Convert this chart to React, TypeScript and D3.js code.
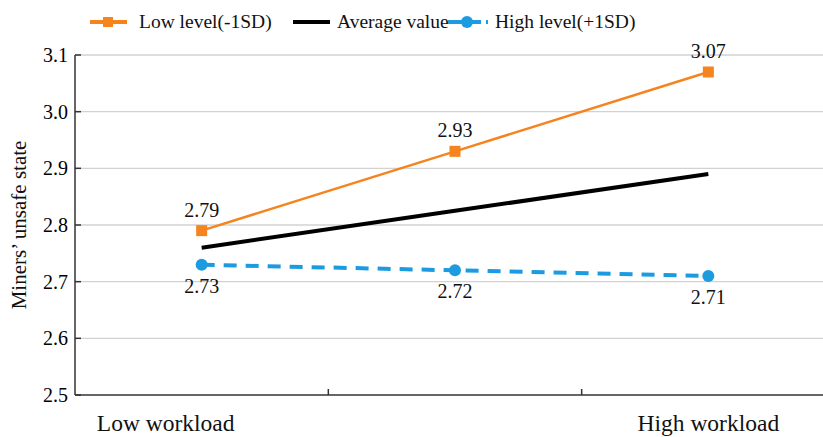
import React from 'react';
import * as d3 from 'd3';

const categories = ['Low workload', 'Medium workload', 'High workload'];
const categoryLabels = ['Low workload', '', 'High workload'];
const lowLevel = [2.79, 2.93, 3.07];
const averageValue = [2.76, 2.825, 2.89];
const highLevel = [2.73, 2.72, 2.71];
const yTicks = [2.5, 2.6, 2.7, 2.8, 2.9, 3.0, 3.1];

const width = 823;
const height = 437;
const margin = { top: 55, right: -12, bottom: 42, left: 75 };
const font = "'Liberation Serif', 'Times New Roman', Times, serif";

const orange = '#f5841f';
const blue = '#1c9be0';

const App = () => {
  const x = d3
    .scaleBand<string>()
    .domain(categories)
    .range([margin.left, width - margin.right]);

  const y = d3
    .scaleLinear()
    .domain([2.5, 3.1])
    .range([height - margin.bottom, margin.top]);

  const cx = (i: number) => (x(categories[i]) as number) + x.bandwidth() / 2;

  const line = d3
    .line<number>()
    .x((_, i) => cx(i))
    .y((d) => y(d));

  const bottom = y(2.5);

  return (
    <svg
      width={width}
      height={height}
      style={{ position: 'absolute', left: 0, top: 0, background: '#fff', fontFamily: font }}
    >
      {/* grid */}
      {yTicks.slice(1).map((t) => (
        <line key={t} x1={margin.left} x2={width} y1={y(t)} y2={y(t)} stroke="#d2d2d2" strokeWidth={1.3} />
      ))}

      {/* y axis */}
      <line x1={margin.left} x2={margin.left} y1={y(3.1)} y2={bottom} stroke="#333" strokeWidth={1.5} />
      {yTicks.map((t) => (
        <g key={t}>
          <line x1={margin.left} x2={margin.left + 6} y1={y(t)} y2={y(t)} stroke="#333" strokeWidth={1.5} />
          <text x={margin.left - 7} y={y(t)} dy="0.35em" textAnchor="end" fontSize={20} fill="#000" style={{ fontFamily: font }}>
            {t.toFixed(1)}
          </text>
        </g>
      ))}
      <text
        transform={`translate(26,${(y(3.1) + bottom) / 2}) rotate(-90)`}
        textAnchor="middle"
        fontSize={21}
        fill="#111"
        style={{ fontFamily: font }}
      >
        Miners’ unsafe state
      </text>

      {/* x axis */}
      <line x1={margin.left} x2={width} y1={bottom} y2={bottom} stroke="#333" strokeWidth={1.5} />
      {categories.slice(1).map((c) => (
        <line key={c} x1={x(c) as number} x2={x(c) as number} y1={bottom} y2={bottom - 6} stroke="#333" strokeWidth={1.5} />
      ))}
      {categoryLabels.map((c, i) => (
        <text
          key={i}
          x={cx(i) + (i === 0 ? -36 : 0)}
          y={bottom + 36}
          textAnchor="middle"
          fontSize={23.5}
          fill="#111"
          style={{ fontFamily: font }}
        >
          {c}
        </text>
      ))}

      {/* series */}
      <path d={line(averageValue) as string} fill="none" stroke="#000" strokeWidth={4} />
      <path d={line(lowLevel) as string} fill="none" stroke={orange} strokeWidth={2.5} />
      <path d={line(highLevel) as string} fill="none" stroke={blue} strokeWidth={4} strokeDasharray="13,9" />

      {lowLevel.map((v, i) => (
        <g key={'l' + i}>
          <rect x={cx(i) - 5.5} y={y(v) - 5.5} width={11} height={11} fill={orange} />
          <text x={cx(i)} y={y(v) - 14} textAnchor="middle" fontSize={20} fill="#111" style={{ fontFamily: font }}>
            {v.toFixed(2)}
          </text>
        </g>
      ))}
      {highLevel.map((v, i) => (
        <g key={'h' + i}>
          <circle cx={cx(i)} cy={y(v)} r={6} fill={blue} />
          <text x={cx(i)} y={y(v) + 28} textAnchor="middle" fontSize={20} fill="#111" style={{ fontFamily: font }}>
            {v.toFixed(2)}
          </text>
        </g>
      ))}

      {/* legend */}
      <g fontSize={19.5} fill="#111" style={{ fontFamily: font }}>
        <line x1={90} x2={127} y1={22} y2={22} stroke={orange} strokeWidth={4} />
        <rect x={103} y={17} width={10} height={10} fill={orange} />
        <text x={139} y={28}>Low level(-1SD)</text>

        <line x1={293} x2={330} y1={22} y2={22} stroke="#000" strokeWidth={4} />
        <text x={337} y={28}>Average value</text>

        <line x1={448} x2={488} y1={22} y2={22} stroke={blue} strokeWidth={4} strokeDasharray="14,5" />
        <circle cx={467} cy={22} r={6} fill={blue} />
        <text x={495} y={28}>High level(+1SD)</text>
      </g>
    </svg>
  );
};

export default App;
